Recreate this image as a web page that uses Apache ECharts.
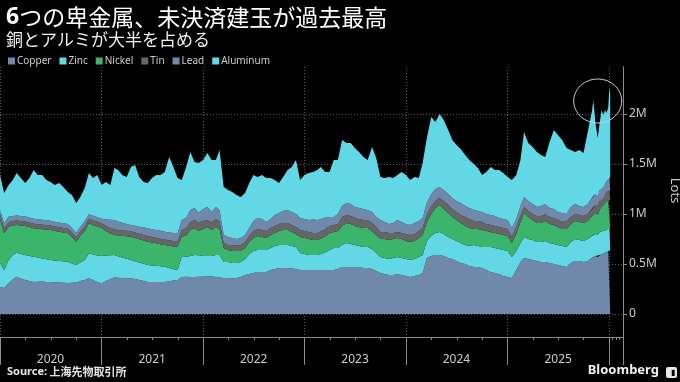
<!DOCTYPE html>
<html>
<head>
<meta charset="utf-8">
<script src="https://cdn.jsdelivr.net/npm/echarts@6/dist/echarts.min.js"></script>
<style>
html,body{margin:0;padding:0;background:#000;}
#c{width:680px;height:382px;}
</style>
</head>
<body>
<div id="c"></div>
<script>
// Values in thousands of lots (k lots)
const dates = [
'2020-01-01','2020-01-16','2020-02-01','2020-02-16','2020-03-01','2020-03-16','2020-04-01','2020-04-16','2020-05-01','2020-05-16','2020-06-01','2020-06-16',
'2020-07-01','2020-07-16','2020-08-01','2020-08-16','2020-09-01','2020-09-16','2020-10-01','2020-10-16','2020-11-01','2020-11-16','2020-12-01','2020-12-16',
'2021-01-01','2021-01-16','2021-02-01','2021-02-16','2021-03-01','2021-03-16','2021-04-01','2021-04-16','2021-05-01','2021-05-16','2021-06-01','2021-06-16',
'2021-07-01','2021-07-16','2021-08-01','2021-08-16','2021-09-01','2021-09-16','2021-10-01','2021-10-16','2021-11-01','2021-11-16','2021-12-01','2021-12-16',
'2022-01-01','2022-01-16','2022-02-01','2022-02-16','2022-03-01','2022-03-16','2022-04-01','2022-04-16','2022-05-01','2022-05-16','2022-06-01','2022-06-16',
'2022-07-01','2022-07-16','2022-08-01','2022-08-16','2022-09-01','2022-09-16','2022-10-01','2022-10-16','2022-11-01','2022-11-16','2022-12-01','2022-12-16',
'2023-01-01','2023-01-16','2023-02-01','2023-02-16','2023-03-01','2023-03-16','2023-04-01','2023-04-16','2023-05-01','2023-05-16','2023-06-01','2023-06-16',
'2023-07-01','2023-07-16','2023-08-01','2023-08-16','2023-09-01','2023-09-16','2023-10-01','2023-10-16','2023-11-01','2023-11-16','2023-12-01','2023-12-16',
'2024-01-01','2024-01-16','2024-02-01','2024-02-16','2024-03-01','2024-03-16','2024-04-01','2024-04-16','2024-05-01','2024-05-16','2024-06-01','2024-06-16',
'2024-07-01','2024-07-16','2024-08-01','2024-08-16','2024-09-01','2024-09-16','2024-10-01','2024-10-16','2024-11-01','2024-11-16','2024-12-01','2024-12-16',
'2025-01-01','2025-01-16','2025-02-01','2025-02-16','2025-03-01','2025-03-16','2025-04-01','2025-04-16','2025-05-01','2025-05-16','2025-06-01','2025-06-16',
'2025-07-01','2025-07-16','2025-08-01','2025-08-16','2025-09-01','2025-09-16','2025-10-01','2025-10-16','2025-11-01','2025-11-05','2025-11-13','2025-11-21',
'2025-11-28','2025-12-05','2025-12-11','2025-12-17','2025-12-23','2025-12-29','2026-01-02','2026-01-05'
];
const copper = [
273,260,307,345,373,355,340,330,320,322,325,320, 320,318,315,312,310,312,315,330,340,357,340,320,
307,330,350,367,362,360,358,357,350,340,330,320, 320,320,320,320,328,335,340,370,372,370,370,372,
372,380,375,370,365,360,360,355,360,370,390,400, 410,420,420,420,440,450,460,460,460,455,450,440,
440,440,440,440,440,440,440,440,450,470,470,470, 470,470,460,460,450,430,410,400,390,390,400,390,
380,370,380,390,410,560,580,590,590,580,560,550, 530,510,500,480,470,470,460,440,420,410,400,380,
370,360,440,520,560,550,540,530,520,520,510,500, 490,480,470,510,530,530,520,530,560,570,580,570,
590,600,605,610,620,630,640,640
];
const zinc = [
234,180,233,245,240,245,250,250,253,243,230,228, 220,217,215,215,213,193,175,185,200,250,255,265,
273,255,238,223,216,205,194,183,178,175,172,170, 166,162,158,153,132,113,100,200,200,210,220,215,
208,200,205,220,225,160,160,155,150,150,160,200, 220,220,220,220,220,230,230,230,230,225,220,170,
160,150,150,150,160,175,200,220,210,220,240,230, 220,210,210,210,200,180,160,160,160,170,170,170,
170,170,170,180,180,170,200,220,230,220,210,200, 200,200,190,200,220,210,210,230,250,250,250,260,
260,210,190,190,210,200,200,190,200,210,200,200, 200,200,200,210,220,210,210,220,220,220,220,220,
230,220,225,230,220,220,220,220
];
const nickel = [
440,367,333,295,277,285,290,290,284,287,293,297, 300,295,292,288,284,265,233,265,290,300,295,290,
280,245,217,200,207,215,225,233,232,233,233,233, 229,225,220,217,222,228,233,200,215,260,270,243,
270,290,260,280,260,140,120,120,120,110,110,120, 130,140,130,120,130,130,140,150,150,140,130,160,
160,160,150,150,155,160,170,160,170,190,200,200, 190,190,190,190,180,180,180,190,190,190,190,190,
180,180,180,190,200,190,220,250,270,250,240,220, 210,200,190,180,160,170,170,160,150,150,150,150,
150,140,170,210,240,220,200,190,190,200,190,190, 180,170,180,180,180,180,180,180,200,200,210,200,
220,260,250,270,280,290,280,280
];
const tin = [
45,45,45,45,45,45,45,45,45,45,45,45, 45,45,45,45,45,45,45,45,48,45,48,48,
48,52,55,55,55,55,55,55,55,55,55,55, 55,55,55,55,55,55,55,70,70,80,80,80,
80,70,75,80,75,50,50,60,55,60,60,60, 70,70,70,70,70,70,70,70,70,70,70,70,
70,70,70,70,70,70,70,70,70,90,80,80, 80,80,80,80,80,80,70,70,70,60,60,60,
70,70,70,70,70,70,80,70,70,80,80,80, 80,80,90,90,80,80,80,70,70,70,70,70,
70,60,70,60,60,60,60,70,70,70,70,70, 70,70,80,70,70,70,70,70,70,80,80,80,
90,80,80,80,100,100,100,100
];
const lead = [
48,55,55,50,50,50,50,50,50,50,50,48, 48,48,48,47,47,45,45,45,50,45,45,45,
45,63,82,95,85,77,68,62,67,70,75,79, 78,78,79,78,78,79,79,100,105,120,120,100,
120,130,105,120,115,80,80,70,65,70,70,80, 100,110,110,90,90,110,110,120,130,130,130,120,
120,120,135,130,125,120,90,80,100,110,120,120, 110,110,110,100,110,100,120,100,90,100,120,110,
100,100,110,100,100,120,120,120,110,110,110,110, 110,120,110,110,110,100,100,100,100,100,90,90,
90,90,80,100,100,100,100,90,100,100,90,90, 80,90,70,100,100,90,90,100,110,110,110,100,
110,120,110,110,110,110,130,130
];
const aluminum = [
350,303,317,360,425,380,335,395,488,443,447,402, 387,367,395,363,321,330,297,300,332,413,377,422,
337,375,348,520,515,478,470,580,608,497,455,453, 512,550,558,597,755,660,553,400,508,580,460,500,
490,540,520,470,600,480,470,460,440,410,420,450, 460,410,440,440,410,350,300,340,400,450,540,380,
440,470,475,500,520,455,450,570,540,660,600,610, 590,560,520,500,650,590,430,440,470,450,450,500,
490,450,460,430,550,650,770,670,730,700,640,580, 560,540,510,480,460,430,370,420,480,460,480,460,
430,480,440,460,650,580,570,550,510,470,660,790, 770,730,660,570,520,560,540,720,880,960,710,590,
670,760,720,740,680,720,890,830
];
const seriesNames = ['Copper','Zinc','Nickel','Tin','Lead','Aluminum'];
const seriesValues = [copper, zinc, nickel, tin, lead, aluminum];
const seriesColors = ['#7088aa','#62d7e6','#3bb56c','#666666','#7088aa','#62d7e6'];

const chart = echarts.init(document.getElementById('c'), null, {renderer:'canvas'});
const axisGrey = '#8c8c8c';
const gridDot = {type:[1,2], color:'#5a5a5a', width:1};

const series = seriesNames.map((n, k) => ({
  name: n,
  type: 'line',
  stack: 'total',
  xAxisIndex: 0,
  yAxisIndex: 0,
  symbol: 'none',
  lineStyle: {width: 0},
  areaStyle: {color: seriesColors[k], opacity: 1},
  itemStyle: {color: seriesColors[k]},
  emphasis: {disabled: true},
  animation: false,
  data: dates.map((d, i) => [d, seriesValues[k][i]])
}));

chart.setOption({
  backgroundColor: '#000',
  animation: false,
  title: [
    {text: '{b|6}つの卑金属、未決済建玉が過去最高', left: 1, top: 1,
     textStyle: {color:'#fff', fontSize: 23, fontWeight: 'normal', fontFamily: '"Noto Sans CJK JP", sans-serif',
       rich: {b: {color:'#fff', fontSize: 23, fontWeight: 'bold', fontFamily: '"Noto Sans", sans-serif'}}}},
    {text: '銅とアルミが大半を占める', left: 1, top: 26,
     textStyle: {color:'#f0f0f0', fontSize: 17, fontWeight: 'normal', fontFamily: '"Noto Sans CJK JP", sans-serif'}},
    {text: '{b|Source:} 上海先物取引所', left: 2, bottom: 0,
     textStyle: {color:'#e6e6e6', fontSize: 11, fontFamily: '"Noto Sans CJK JP", sans-serif',
       rich: {b: {color:'#e6e6e6', fontSize: 11, fontWeight: 'bold', fontFamily: '"Noto Sans", sans-serif'}}}},
    {text: 'Bloomberg', right: 16, bottom: 0,
     textStyle: {color:'#f2f2f2', fontSize: 13, fontWeight: 'bold', fontFamily: '"Noto Sans", sans-serif'}}
  ],
  legend: {
    data: seriesNames,
    left: 3, top: 51,
    icon: 'rect', itemWidth: 7, itemHeight: 7, itemGap: 8,
    textStyle: {color:'#cccccc', fontSize: 10, fontFamily: '"Noto Sans", sans-serif', padding: [0,0,0,-3]},
    selectedMode: false
  },
  grid: [
    {left: 0, right: 57, top: 67, bottom: 68, containLabel: false, outerBoundsMode: 'none'},
    {left: 0, right: 57, top: 67, bottom: 45, containLabel: false, outerBoundsMode: 'none'}
  ],
  xAxis: [
    {type:'time', gridIndex:0, min:'2020-01-01', max:'2026-02-20', show:false},
    {type:'time', gridIndex:1, min:'2020-01-01', max:'2026-02-20',
     minInterval: 365*24*3600*1000, maxInterval: 366*24*3600*1000,
     axisLine:{show:true, lineStyle:{color:axisGrey, width:1}},
     axisTick:{show:true, length:28, lineStyle:{color:axisGrey}},
     minorTick:{show:true, splitNumber:4, length:3, lineStyle:{color:axisGrey}},
     splitLine:{show:true, lineStyle:gridDot},
     axisLabel:{color:'#cccccc', fontSize:12, margin:17, padding:[0,0,0,101], align:'center',
       fontFamily:'"Noto Sans", sans-serif', showMinLabel:true, showMaxLabel:false,
       formatter: function(v){ const y = new Date(v).getFullYear(); return y >= 2026 ? '' : String(y); }}
    }
  ],
  yAxis: [
    {type:'value', gridIndex:0, position:'right', min:0, max:2470, interval:500,
     axisLine:{show:true, lineStyle:{color:axisGrey}},
     axisTick:{show:true, length:4, lineStyle:{color:axisGrey}},
     splitLine:{show:true, showMaxLine:false, lineStyle:gridDot},
     axisLabel:{color:'#cccccc', fontSize:12, margin:6, fontFamily:'"Noto Sans", sans-serif', showMaxLabel:false,
       formatter: function(v){ if (v % 500 !== 0) return ''; return v === 0 ? '0' : (v/1000) + 'M'; }},
     name:'Lots', nameLocation:'middle', nameRotate:-90, nameGap:37,
     nameTextStyle:{color:'#cccccc', fontSize:13, fontFamily:'"Noto Sans", sans-serif'}
    },
    {type:'value', gridIndex:1, position:'right', min:0, max:1,
     axisLine:{show:true, lineStyle:{color:axisGrey}},
     axisTick:{show:false}, axisLabel:{show:false}, splitLine:{show:false}}
  ],
  series: series
});

// annotation ellipse around the record high, anchored in data coordinates
const c = chart.convertToPixel({xAxisIndex:0, yAxisIndex:0}, ['2025-11-21', 2130]);
chart.setOption({
  graphic: [
    {type:'ellipse', shape:{cx:c[0], cy:c[1], rx:24, ry:22},
     style:{fill:'none', stroke:'#d0d0d0', lineWidth:1}, silent:true, z:100},
    {type:'rect', right:3, bottom:4, shape:{width:11, height:11, r:2},
     style:{fill:'#e8e8e8'}, silent:true},
    {type:'text', right:5, bottom:5, style:{text:'▮', fill:'#000', fontSize:8}, silent:true}
  ]
});
</script>
</body>
</html>
